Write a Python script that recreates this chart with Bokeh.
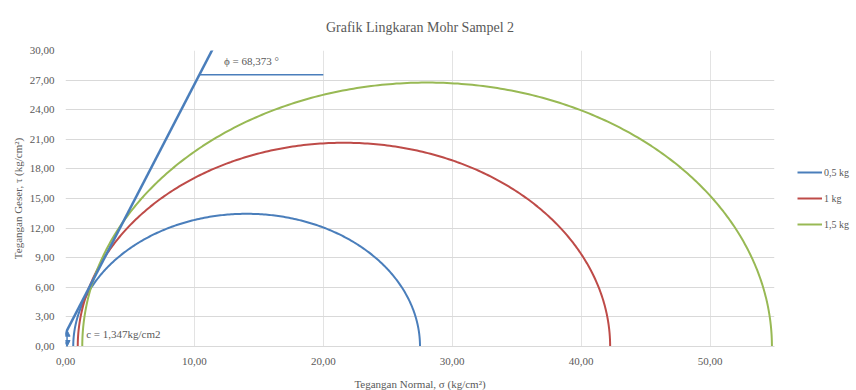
import numpy as np
from bokeh.plotting import figure
from bokeh.models import (FixedTicker, CustomJSTickFormatter, Legend, LegendItem,
                          Label, Arrow, NormalHead, Range1d)
from bokeh.embed import file_html
from bokeh.resources import INLINE

# ---- data ----
series = ["0,5 kg", "1 kg", "1,5 kg"]
sigma3 = [0.6, 0.95, 1.3]
sigma1 = [27.5, 42.25, 54.8]
colors = ["#4A7EBB", "#BE4B48", "#98B954"]
cohesion = 1.347
phi_deg = 68.373
x_ticks = [0, 10, 20, 30, 40, 50]
y_ticks = [0, 3, 6, 9, 12, 15, 18, 21, 24, 27, 30]

FONT = "Liberation Serif, Times New Roman, serif"
GREY = "#595959"

p = figure(frame_width=709, frame_height=296, output_backend="svg", toolbar_location=None,
           x_range=Range1d(0, 55), y_range=Range1d(0, 30),
           min_border_left=65, min_border_right=0, min_border_top=50, min_border_bottom=44)

p.title.text = "Grafik Lingkaran Mohr Sampel 2"
p.title.align = "center"
p.title.standoff = 32
p.title.text_font = FONT
p.title.text_font_size = "14px"
p.title.text_font_style = "normal"
p.title.text_color = GREY

fmt = CustomJSTickFormatter(code="return tick.toFixed(2).replace('.', ',');")
p.xaxis.ticker = FixedTicker(ticks=x_ticks)
p.yaxis.ticker = FixedTicker(ticks=y_ticks)
p.xaxis.formatter = fmt
p.yaxis.formatter = fmt
for ax in (p.xaxis, p.yaxis):
    ax.major_label_text_font = FONT
    ax.major_label_text_font_size = "11px"
    ax.major_label_text_color = GREY
    ax.major_tick_line_color = None
    ax.minor_tick_line_color = None
    ax.axis_label_text_font = FONT
    ax.axis_label_text_font_size = "11px"
    ax.axis_label_text_font_style = "normal"
    ax.axis_label_text_color = GREY
p.xaxis.axis_line_color = "#D9D9D9"
p.yaxis.axis_line_color = None
p.xaxis.axis_label = "Tegangan Normal, σ (kg/cm²)"
p.yaxis.axis_label = "Tegangan Geser, τ (kg/cm²)"
p.xaxis.axis_label_standoff = 10
p.yaxis.axis_label_standoff = 3
p.xgrid.grid_line_color = "#E3E3E3"
p.ygrid.grid_line_color = "#D9D9D9"
p.outline_line_color = None

items = []
for name, s3, s1, c in zip(series, sigma3, sigma1, colors):
    center = (s1 + s3) / 2
    r = (s1 - s3) / 2
    t = np.linspace(np.pi, 0, 300)
    xs = center + r * np.cos(t)
    ys = r * np.sin(t)
    rend = p.line(xs, ys, line_color=c, line_width=2)
    items.append(LegendItem(label=name, renderers=[rend]))

# failure envelope
tanphi = np.tan(np.radians(phi_deg))
ex = np.array([-0.2, 11.5])
p.line(ex, cohesion + tanphi * ex, line_color="#4A7EBB", line_width=2.5)

# phi annotation
y_phi = 27.55
x_start = (y_phi - cohesion) / tanphi
p.line([x_start, 20], [y_phi, y_phi], line_color="#4A7EBB", line_width=1.5)
p.add_layout(Label(x=12.3, y=28.9, text="ϕ = 68,373 °", text_font=FONT,
                   text_font_size="11px", text_color=GREY, text_baseline="middle"))

# cohesion annotation
p.add_layout(Arrow(x_start=0.12, y_start=cohesion + 0.3, x_end=0.12, y_end=0.0,
                   line_color="#4A7EBB", line_width=1.5,
                   start=NormalHead(size=6, fill_color="#4A7EBB", line_color="#4A7EBB"),
                   end=NormalHead(size=6, fill_color="#4A7EBB", line_color="#4A7EBB")))
p.add_layout(Label(x=1.6, y=1.3, text="c = 1,347kg/cm2", text_font=FONT,
                   text_font_size="11px", text_color=GREY, text_baseline="middle",
                   background_fill_color="white", background_fill_alpha=0.8))

legend = Legend(items=items, location="center_left", glyph_width=25, glyph_height=12,
                label_standoff=2, spacing=14, padding=0, margin=23,
                border_line_color=None, background_fill_alpha=0,
                label_text_font=FONT, label_text_font_size="10px", label_text_color=GREY)
p.add_layout(legend, "right")

open("out.html", "w").write(file_html(p, INLINE))
